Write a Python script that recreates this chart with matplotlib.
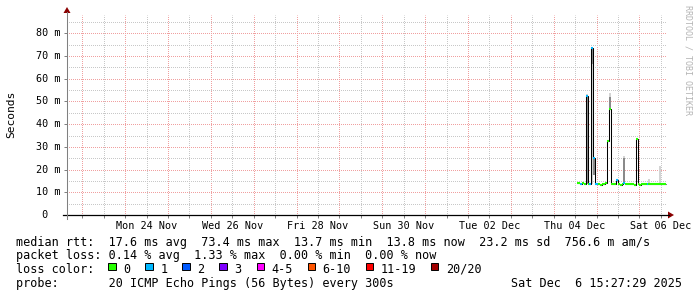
import numpy as np
import pandas as pd
import matplotlib

matplotlib.use("Agg")
import matplotlib.pyplot as plt
import matplotlib.dates as mdates
from matplotlib.lines import Line2D
from matplotlib.patches import Polygon, Rectangle
from matplotlib.ticker import MultipleLocator, NullFormatter

W, H = 697, 297
MONO = "DejaVu Sans Mono"

# time frame of the graph and start of the hourly consolidated data
graph_start = "2025-11-22T15:27:29"
graph_end = "2025-12-06T15:27:29"
first_bin = "2025-12-04T13:00"

# median rtt per hour (ms) and pings lost out of 20
median_ms = [
    13.9, 13.9, 13.8, 13.9, 13.8, 52.3, 13.8, 13.8, 73.4, 25.0,
    13.8, 13.8, 13.8, 13.3, 13.8, 13.8, 13.9, 32.7, 46.5, 13.8,
    13.8, 13.8, 15.2, 13.8, 13.2, 13.8, 13.9, 13.8, 13.8, 13.8,
    13.8, 13.8, 13.3, 33.4, 13.8, 13.3, 13.8, 13.8, 13.8, 13.8,
    13.8, 13.8, 13.8, 13.8, 13.8, 13.8, 13.8, 13.8, 13.8, 13.8,
]
lost = [
    0, 0, 1, 0, 0, 1, 0, 1, 1, 1,
    1, 1, 0, 0, 0, 0, 0, 0, 0, 0,
    0, 0, 1, 0, 0, 0, 1, 0, 0, 0,
    0, 0, 0, 0, 0, 0, 0, 0, 0, 1,
    0, 0, 0, 0, 0, 0, 0, 0, 0, 0,
]

# smoke (spread of the pings) where it shows
smoke_bin = [5, 8, 9, 18, 26, 40, 46]
smoke_lo = [13.8, 13.8, 17.6, 46.5, 13.9, 13.8, 13.8]
smoke_hi = [53.5, 73.4, 25.0, 53.6, 26.0, 15.7, 21.5]
core_lo = [13.8, 66.5, 17.6, 46.5, 14.5, 13.8, 13.8]
core_hi = [52.5, 73.4, 25.0, 52.0, 25.0, 13.8, 13.8]

loss_labels = ["0", "1", "2", "3", "4-5", "6-10", "11-19", "20/20"]
loss_upper = [0, 1, 2, 3, 5, 10, 19, 20]
loss_colors = ["#26ff00", "#00b8ff", "#0059ff", "#7e00ff",
               "#ff00ff", "#ff5500", "#ff0000", "#a10000"]

ytick_ms = [0, 10, 20, 30, 40, 50, 60, 70, 80]
label_days = ["2025-11-24", "2025-11-26", "2025-11-28", "2025-11-30",
              "2025-12-02", "2025-12-04", "2025-12-06"]

stats_rtt = ("median rtt:  17.6 ms avg  73.4 ms max  13.7 ms min  "
             "13.8 ms now  23.2 ms sd  756.6 m am/s")
stats_loss = "packet loss: 0.14 % avg  1.33 % max  0.00 % min  0.00 % now"
probe_text = "probe:       20 ICMP Echo Pings (56 Bytes) every 300s"
stamp_text = "Sat Dec  6 15:27:29 2025"


def fx(x):
    return x / W


def fy(y):
    return 1 - y / H


fig = plt.figure(figsize=(W / 100, H / 100), dpi=100, facecolor="white")
ax = fig.add_axes([fx(67), fy(215), 600 / W, 200 / H])
ax.set_facecolor("white")
for s in ax.spines.values():
    s.set_visible(False)

x0 = mdates.date2num(np.datetime64(graph_start))
x1 = mdates.date2num(np.datetime64(graph_end))
ax.set_xlim(x0, x1)
ax.set_ylim(0, 88.1)

# hourly bins
times = np.datetime64(first_bin) + np.arange(len(median_ms) + 1) * np.timedelta64(1, "h")
edges = mdates.date2num(times)
hour = 1 / 24

ax.bar(edges[smoke_bin], np.subtract(smoke_hi, smoke_lo), width=hour,
       bottom=smoke_lo, align="edge", color="#d4d4d4", lw=0, zorder=2)
ax.bar(edges[smoke_bin], np.subtract(core_hi, core_lo), width=hour,
       bottom=core_lo, align="edge", color="#8a8a8a", lw=0, zorder=2)

bin_colors = [loss_colors[next(i for i, u in enumerate(loss_upper) if n <= u)]
              for n in lost]
ax.stairs(median_ms, edges, baseline=None, color="black", lw=0.75, zorder=3)
ax.hlines(median_ms, edges[:-1], edges[1:], colors=bin_colors, lw=1.5, zorder=4)

# grid: 1 px on / 1 px off dots, offset by half a pixel to sit on whole pixels
ax.xaxis.set_major_locator(mdates.DayLocator())
ax.xaxis.set_major_formatter(NullFormatter())
day0 = pd.Timestamp(graph_start).normalize()
noons = pd.date_range(day0 + pd.Timedelta(hours=36), graph_end, freq="D")
ax.set_xticks(mdates.date2num(noons.to_numpy()),
              [d.strftime("%a %d %b") if d.strftime("%Y-%m-%d") in label_days else ""
               for d in noons], minor=True)
ax.yaxis.set_major_locator(MultipleLocator(10))
ax.yaxis.set_minor_locator(MultipleLocator(5))
ax.yaxis.set_major_formatter(NullFormatter())
ax.grid(which="major", color="#f0a0a0", linestyle=(0.5, (1, 1)), lw=0.72)
ax.grid(which="minor", color="#c8c8c8", linestyle=(0.5, (1, 1)), lw=0.72)
ax.set_axisbelow(True)

ax.tick_params(axis="x", which="both", direction="out", length=2.2, width=0.72,
               color="#808080", pad=2.0, labelsize=7.3)
for lab in ax.get_xticklabels(minor=True):
    lab.set_fontfamily(MONO)
ax.tick_params(axis="y", which="major", direction="out", length=2.2, width=0.72,
               color="#808080")
ax.tick_params(axis="y", which="minor", length=0)

for v in ytick_ms:
    txt = " 0" if v == 0 else f"{v} m"
    ax.text((35.6 - 67) / 600, v, txt, transform=ax.get_yaxis_transform(),
            ha="left", va="center", family=MONO, size=7.3)

# axis lines with arrows
fig.add_artist(Line2D([fx(63), fx(669)], [fy(215), fy(215)], transform=fig.transFigure,
                      color="black", lw=0.9))
fig.add_artist(Polygon([(fx(668), fy(211.5)), (fx(674), fy(215)), (fx(668), fy(218.5))],
                       closed=True, transform=fig.transFigure, color="#8b0000", lw=0))
fig.add_artist(Line2D([fx(67), fx(67)], [fy(219), fy(12)], transform=fig.transFigure,
                      color="#808080", lw=0.75))
fig.add_artist(Polygon([(fx(63.5), fy(13)), (fx(67), fy(7)), (fx(70.5), fy(13))],
                       closed=True, transform=fig.transFigure, color="#8b0000", lw=0))

fig.text(fx(10.8), fy(114), "Seconds", rotation=90, ha="center", va="center",
         family=MONO, size=8.1)
fig.text(fx(688.3), fy(5), "RRDTOOL / TOBI OETIKER", rotation=270, ha="center",
         va="top", family=MONO, size=6, color="#b4b4b4")

# legend
rows = [245.7, 259.4, 273.0, 286.7]
fs = 8.5
fig.text(fx(16), fy(rows[0]), stats_rtt, family=MONO, size=fs, va="baseline")
fig.text(fx(16), fy(rows[1]), stats_loss, family=MONO, size=fs, va="baseline")
fig.text(fx(16), fy(rows[2]), "loss color:", family=MONO, size=fs, va="baseline")
fig.text(fx(16), fy(rows[3]), probe_text, family=MONO, size=fs, va="baseline")
fig.text(fx(682), fy(rows[3]), stamp_text, family=MONO, size=fs, va="baseline",
         ha="right")

bx = 108.3
for lab, col in zip(loss_labels, loss_colors):
    fig.add_artist(Rectangle((fx(bx), fy(270.3)), 7.3 / W, 7.6 / H,
                             transform=fig.transFigure, facecolor=col,
                             edgecolor="black", lw=0.7))
    fig.text(fx(bx + 15), fy(rows[2]), lab, family=MONO, size=fs, va="baseline")
    bx += 30 + 7.05 * len(lab)

fig.savefig("out.png", dpi=100, facecolor="white")
